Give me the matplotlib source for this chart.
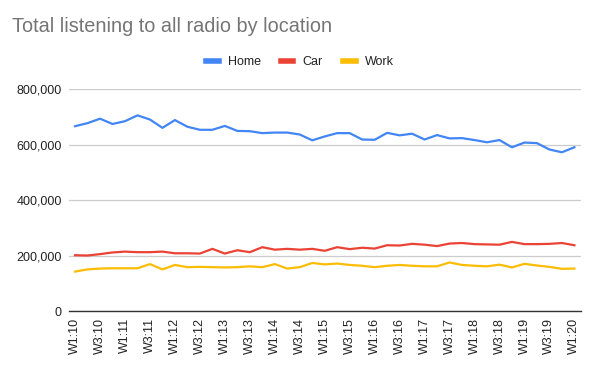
import numpy as np
import matplotlib.pyplot as plt
from matplotlib.ticker import FuncFormatter

plt.rcParams['font.family'] = ['Liberation Sans', 'DejaVu Sans']

# waves W1..W4 per year, 2010 W1 to 2020 W1
labels = []
for yr in range(10, 21):
    for w in range(1, 5):
        labels.append(f"W{w}:{yr}")
labels = labels[:41]

home = [666, 677, 693, 674, 684, 705, 690, 660, 688, 664,
        653, 653, 667, 649, 648, 641, 643, 643, 636, 615,
        629, 641, 641, 618, 617, 642, 633, 639, 618, 634,
        622, 623, 616, 608, 616, 590, 607, 605, 582, 572,
        590]
car = [201, 200, 205, 211, 214, 212, 212, 214, 208, 208,
       207, 224, 207, 219, 212, 230, 221, 224, 221, 224,
       217, 230, 223, 228, 225, 237, 236, 242, 239, 234,
       243, 245, 241, 240, 239, 249, 241, 241, 242, 245,
       237]
work = [142, 150, 153, 154, 154, 154, 169, 150, 166, 158,
        159, 158, 157, 158, 161, 158, 169, 153, 158, 173,
        168, 171, 166, 163, 158, 163, 166, 163, 161, 161,
        175, 166, 163, 161, 167, 157, 170, 164, 159, 152,
        153]

series = [("Home", home, "#4285F4"), ("Car", car, "#EA4335"), ("Work", work, "#FBBC04")]

fig = plt.figure(figsize=(6, 3.71), dpi=100)
ax = fig.add_axes([0.1147, 0.1617, 0.853, 0.5984])

x = np.arange(len(labels))
for name, vals, col in series:
    ax.plot(x, np.array(vals) * 1000, color=col, lw=1.6, label=name)

ax.set_xlim(-0.5, len(labels) - 0.5)
ax.set_ylim(0, 800000)
ax.set_yticks([0, 200000, 400000, 600000, 800000])
ax.yaxis.set_major_formatter(FuncFormatter(lambda v, p: f"{int(v):,}"))
ax.set_xticks(x[::2])
ax.set_xticklabels(labels[::2], rotation=90)
ax.tick_params(axis='both', length=0, labelsize=9, colors='#222222')
ax.tick_params(axis='x', pad=5)
ax.tick_params(axis='y', pad=5)
ax.grid(axis='y', color='#cccccc', lw=0.9)
ax.set_axisbelow(True)
for s in ['top', 'right', 'left']:
    ax.spines[s].set_visible(False)
ax.spines['bottom'].set_color('#333333')
ax.spines['bottom'].set_linewidth(1)

fig.text(0.02, 0.928, "Total listening to all radio by location", fontsize=14.3,
         color='#757575', va='center', ha='left')
fig.legend(loc='center', bbox_to_anchor=(0.5, 0.833), ncol=3, frameon=False,
           fontsize=9, handlelength=1.0, handletextpad=0.75, columnspacing=1.6,
           labelcolor='#222222')
for line in fig.legends[0].get_lines():
    line.set_linewidth(4)

fig.savefig("out.png", dpi=100)
